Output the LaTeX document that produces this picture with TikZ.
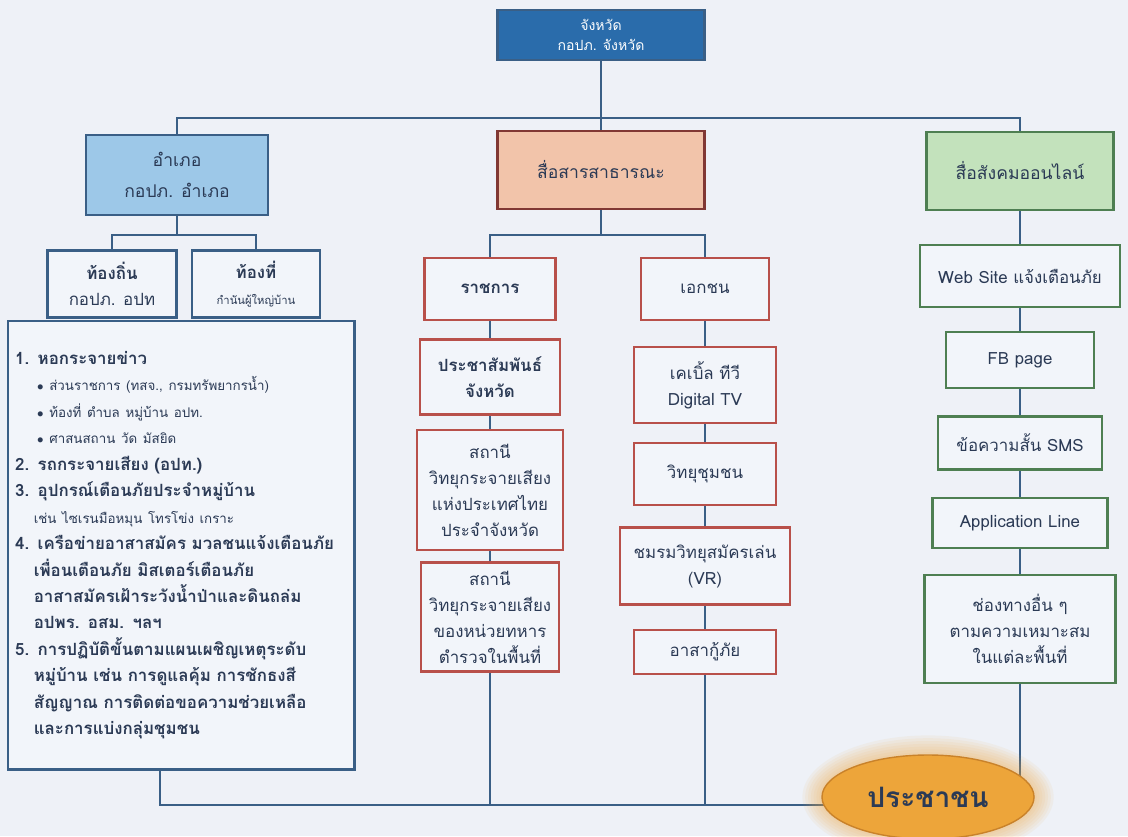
\documentclass[tikz,border=0pt]{standalone}
\usepackage{fontspec}
\setmainfont[Script=Thai]{Loma}
\usetikzlibrary{shapes.geometric,backgrounds}

\definecolor{linkblue}{HTML}{3A5F86}
\definecolor{topblue}{HTML}{2A6CAB}
\definecolor{amphoefill}{HTML}{9DC8E8}
\definecolor{pubfill}{HTML}{F2C4AA}
\definecolor{publine}{HTML}{B8504A}
\definecolor{socfill}{HTML}{C3E2BC}
\definecolor{socline}{HTML}{4E7F52}
\definecolor{paleback}{HTML}{EEF1F7}
\definecolor{boxfill}{HTML}{F2F5FA}
\definecolor{inktext}{HTML}{2B3A55}
\definecolor{crowdfill}{HTML}{EDA53A}
\definecolor{crowdline}{HTML}{C9822A}

\tikzset{
  link/.style={draw=linkblue,line width=2pt},
  basebox/.style={draw,line width=1.7pt,align=center,inner sep=2pt,text=inktext,
    font=\fontsize{12}{18.5}\selectfont},
  bluebox/.style={basebox,draw=linkblue,fill=boxfill},
  redbox/.style={basebox,draw=publine,fill=boxfill},
  greenbox/.style={basebox,draw=socline,fill=boxfill},
  headbox/.style={basebox,minimum height=1.95cm,font=\fontsize{12.5}{22}\selectfont},
}
\newcommand{\thinline}{\mdseries\fontsize{9.5}{18.8}\selectfont}

\begin{document}
\begin{tikzpicture}[x=0.025cm,y=-0.025cm]
  \useasboundingbox (0,0) rectangle (1128,836);

  %% top of the tree
  \node[basebox,fill=topblue,draw=linkblue,text=white,minimum width=5.18cm,
    minimum height=1.25cm,font=\fontsize{10}{14}\selectfont] (prov) at (601,35)
    {จังหวัด\\กอปภ. จังหวัด};
  \node[headbox,draw=linkblue,fill=amphoefill,minimum width=4.55cm,minimum height=2cm]
    (amphoe) at (177,175) {อำเภอ\\กอปภ. อำเภอ};
  \node[headbox,draw=publine!70!black,fill=pubfill,minimum width=5.18cm] (pub) at (601,170)
    {สื่อสารสาธารณะ};
  \node[headbox,draw=socline,fill=socfill,minimum width=4.68cm] (social) at (1020,171)
    {สื่อสังคมออนไลน์};

  %% left branch
  \node[bluebox,minimum width=3.23cm,minimum height=1.68cm] (local) at (112,284)
    {\textbf{ท้องถิ่น}\\กอปภ. อปท};
  \node[bluebox,minimum width=3.2cm,minimum height=1.68cm] (area) at (256,284)
    {\textbf{ท้องที่}\\{\fontsize{8}{9}\selectfont กำนันผู้ใหญ่บ้าน}};
  \node[bluebox,anchor=north west,text width=8.3cm,minimum width=8.58cm,
    minimum height=11.2cm,align=left,inner sep=5pt,
    font=\fontsize{12}{18.8}\selectfont\bfseries] (list) at (7,320)
    {1. หอกระจายข่าว\\
     \hspace*{1.3em}{\thinline $\bullet$ ส่วนราชการ (ทสจ., กรมทรัพยากรน้ำ)}\\
     \hspace*{1.3em}{\thinline $\bullet$ ท้องที่ ตำบล หมู่บ้าน อปท.}\\
     \hspace*{1.3em}{\thinline $\bullet$ ศาสนสถาน วัด มัสยิด}\\
     2. รถกระจายเสียง (อปท.)\\
     3. อุปกรณ์เตือนภัยประจำหมู่บ้าน\\
     \hspace*{1.1em}{\thinline เช่น ไซเรนมือหมุน โทรโข่ง เกราะ}\\
     4. เครือข่ายอาสาสมัคร มวลชนแจ้งเตือนภัย\\
     \hspace*{1.1em}เพื่อนเตือนภัย มิสเตอร์เตือนภัย\\
     \hspace*{1.1em}อาสาสมัครเฝ้าระวังน้ำป่าและดินถล่ม\\
     \hspace*{1.1em}อปพร. อสม. ฯลฯ\\
     5. การปฏิบัติขั้นตามแผนเผชิญเหตุระดับ\\
     \hspace*{1.1em}หมู่บ้าน เช่น การดูแลคุ้ม การชักธงสี\\
     \hspace*{1.1em}สัญญาณ การติดต่อขอความช่วยเหลือ\\
     \hspace*{1.1em}และการแบ่งกลุ่มชุมชน};

  %% middle branch
  \node[redbox,minimum width=3.28cm,minimum height=1.55cm] (gov) at (490,289)
    {\textbf{ราชการ}};
  \node[redbox,minimum width=3.5cm,minimum height=1.88cm] (prd) at (490,377)
    {\textbf{ประชาสัมพันธ์}\\\textbf{จังหวัด}};
  \node[redbox,minimum width=3.65cm,minimum height=3cm] (radio1) at (490,490)
    {สถานี\\วิทยุกระจายเสียง\\แห่งประเทศไทย\\ประจำจังหวัด};
  \node[redbox,minimum width=3.45cm,minimum height=2.72cm] (radio2) at (490,617)
    {สถานี\\วิทยุกระจายเสียง\\ของหน่วยทหาร\\ตำรวจในพื้นที่};
  \node[redbox,minimum width=3.2cm,minimum height=1.55cm] (priv) at (705,289) {เอกชน};
  \node[redbox,minimum width=3.55cm,minimum height=1.9cm] (cable) at (705,385)
    {เคเบิ้ล ทีวี\\Digital TV};
  \node[redbox,minimum width=3.55cm,minimum height=1.55cm] (commradio) at (705,474)
    {วิทยุชุมชน};
  \node[redbox,minimum width=4.25cm,minimum height=1.93cm] (ham) at (705,566)
    {ชมรมวิทยุสมัครเล่น\\(VR)};
  \node[redbox,minimum width=3.55cm,minimum height=1.1cm] (rescue) at (705,652)
    {อาสากู้ภัย};

  %% right branch
  \node[greenbox,minimum width=5cm,minimum height=1.55cm] (web) at (1020,276)
    {Web Site แจ้งเตือนภัย};
  \node[greenbox,minimum width=3.7cm,minimum height=1.4cm] (fb) at (1020,360) {FB page};
  \node[greenbox,minimum width=4.1cm,minimum height=1.33cm] (sms) at (1020,443)
    {ข้อความสั้น SMS};
  \node[greenbox,minimum width=4.38cm,minimum height=1.25cm] (app) at (1020,523)
    {Application Line};
  \node[greenbox,minimum width=4.78cm,minimum height=2.7cm] (other) at (1020,629)
    {ช่องทางอื่น ๆ\\ตามความเหมาะสม\\ในแต่ละพื้นที่};

  %% glow and people
  \foreach \g in {1,...,7} {
    \fill[crowdfill,opacity=0.07] (928,797) ellipse ({2.65cm+\g*0.07cm} and {1.05cm+\g*0.07cm});
  }
  \node[ellipse,draw=crowdline,line width=1pt,fill=crowdfill,minimum width=5.3cm,
    minimum height=2.1cm,text=inktext,font=\fontsize{20}{22}\selectfont\bfseries]
    (people) at (928,797) {ประชาชน};

  %% connectors
  \begin{scope}[on background layer]
    \fill[paleback] (0,0) rectangle (1128,836);
    \coordinate (busA) at (601,118);
    \coordinate (busB) at (177,235);
    \coordinate (busC) at (601,235);
    \coordinate (busD) at (160,805);
    \draw[link] (prov) -- (pub);
    \draw[link] (amphoe.north) |- (busA) -| (social.north);
    \draw[link] (amphoe) -- (busB);
    \draw[link] (local.north) |- (busB) -| (area.north);
    \draw[link] (pub) -- (busC);
    \draw[link] (gov.north) |- (busC) -| (priv.north);
    \draw[link] (gov) -- (prd);
    \draw[link] (prd) -- (radio1);
    \draw[link] (radio1) -- (radio2);
    \draw[link] (priv) -- (cable);
    \draw[link] (cable) -- (commradio);
    \draw[link] (commradio) -- (ham);
    \draw[link] (ham) -- (rescue);
    \draw[link] (social) -- (web);
    \draw[link] (web) -- (fb);
    \draw[link] (fb) -- (sms);
    \draw[link] (sms) -- (app);
    \draw[link] (app) -- (other);
    \draw[link] (list.south -| busD) -- (busD) -- (busD -| people);
    \draw[link] (radio2) -- (radio2 |- busD);
    \draw[link] (rescue) -- (rescue |- busD);
    \draw[link] (other) -- (other |- people);
  \end{scope}
\end{tikzpicture}
\end{document}
